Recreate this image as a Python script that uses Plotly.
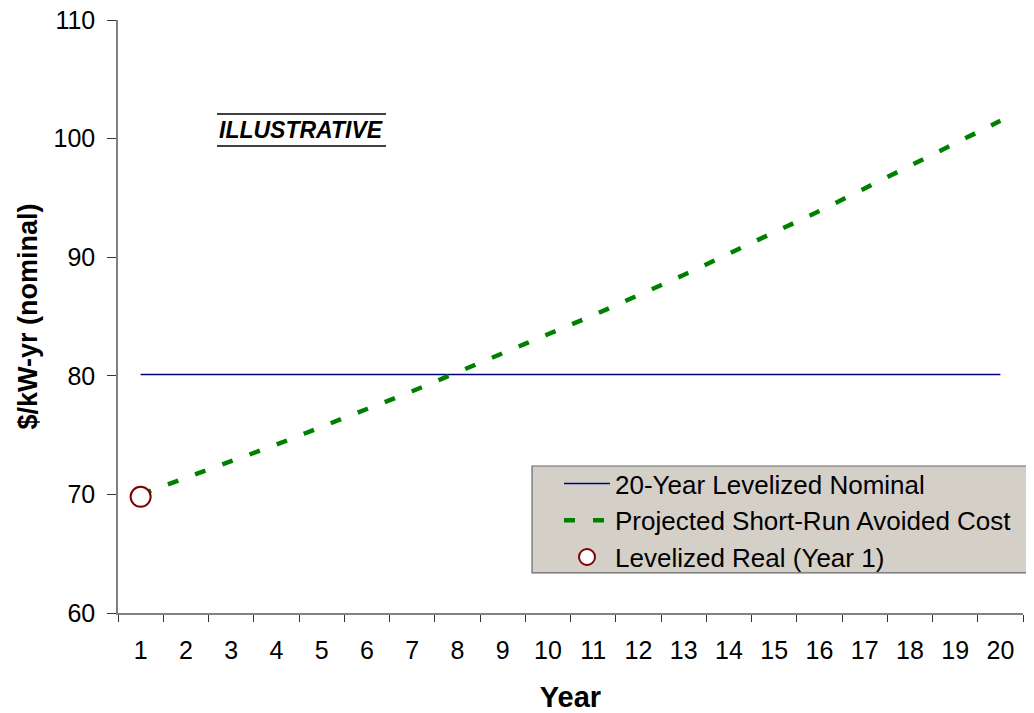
import plotly.graph_objects as go

years = list(range(1, 21))
levelized_nominal = [80.1] * 20
projected_src = [70.0, 71.4, 72.8, 74.2, 75.7, 77.2, 78.7, 80.3, 81.9, 83.5,
                 85.1, 86.8, 88.5, 90.3, 92.1, 93.9, 95.8, 97.7, 99.6, 101.5]
real_year = [1]
real_value = [69.8]

FONT = "Liberation Sans, Arial, sans-serif"

fig = go.Figure()
fig.add_trace(go.Scatter(
    x=years, y=levelized_nominal, mode="lines",
    name="20-Year Levelized Nominal",
    line=dict(color="#000080", width=1.5),
    legendgroup="a"))
fig.add_trace(go.Scatter(
    x=years, y=projected_src, mode="lines",
    name="Projected Short-Run Avoided Cost",
    line=dict(color="#008000", width=4.5, dash="11px,18px", shape="spline"),
    legendgroup="b"))
fig.add_trace(go.Scatter(
    x=real_year, y=real_value, mode="markers",
    name="Levelized Real (Year 1)",
    marker=dict(symbol="circle", size=20, color="white",
                line=dict(color="#800000", width=2)),
    legendgroup="c"))

fig.update_layout(
    width=1026, height=705,
    margin=dict(l=110, r=11, t=12, b=100, autoexpand=False),
    paper_bgcolor="white", plot_bgcolor="white",
    font=dict(family=FONT, color="black", size=25),
    showlegend=True,
    legend=dict(
        x=0.4873, y=0.258, xanchor="left", yanchor="top",
        bgcolor="rgba(0,0,0,0)", borderwidth=0,
        itemwidth=46,
        font=dict(family=FONT, size=26, color="black"),
        tracegroupgap=1, traceorder="normal"),
    xaxis=dict(
        range=[0.5, 20.5], tickvals=years, ticktext=[str(y) for y in years],
        ticks="", showgrid=False, zeroline=False,
        showline=True, linecolor="#808080", linewidth=1.5,
        tickfont=dict(family=FONT, size=25, color="black"),
        ticklabelstandoff=14, ticklabeloverflow="allow",
        minor=dict(ticks="outside", tick0=0.5, dtick=1, ticklen=7,
                   tickcolor="#333333", tickwidth=1, showgrid=False),
        title=dict(text="<b>Year</b>", font=dict(family=FONT, size=29, color="black"),
                   standoff=26),
    ),
    yaxis=dict(
        range=[60, 110], tickvals=[60, 70, 80, 90, 100, 110],
        ticks="outside", ticklen=9, tickcolor="#333333", tickwidth=1,
        showgrid=False, zeroline=False,
        showline=True, linecolor="#808080", linewidth=1.5,
        tickfont=dict(family=FONT, size=25, color="black"),
        ticklabelstandoff=7, ticklabeloverflow="allow",
        title=dict(text="<b>$/kW-yr (nominal)</b>",
                   font=dict(family=FONT, size=27, color="black"), standoff=8),
    ),
    annotations=[dict(
        text="<b><i>ILLUSTRATIVE</i></b>", xref="paper", yref="paper",
        x=0.2022, y=0.8145, xanchor="center", yanchor="middle",
        showarrow=False, font=dict(family=FONT, size=23, color="black"))],
    shapes=[
        dict(type="line", xref="paper", yref="paper", x0=0.1094, x1=0.2961,
             y0=0.8415, y1=0.8415, line=dict(color="black", width=1.5)),
        dict(type="line", xref="paper", yref="paper", x0=0.1094, x1=0.2961,
             y0=0.7875, y1=0.7875, line=dict(color="black", width=1.5)),
        dict(type="rect", xref="paper", yref="paper", x0=0.4575, x1=1.03,
             y0=0.0675, y1=0.2479, layer="above",
             fillcolor="#D4D0C8", line=dict(color="#666666", width=1.2)),
    ],
)

fig.write_html("out.html")
